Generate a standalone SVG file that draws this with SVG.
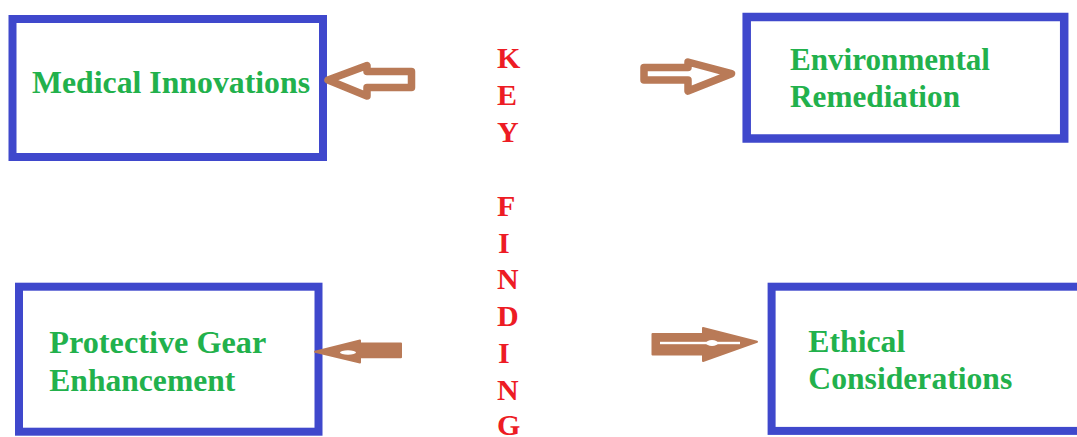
<svg xmlns="http://www.w3.org/2000/svg" width="1077" height="437" viewBox="0 0 1077 437">
<style>
.box{fill:#fff;stroke:#3F48CC;stroke-width:8}
.lbl{font-family:"Liberation Serif","Times New Roman",serif;font-weight:bold;font-size:31px;fill:#22B14C}
.key{font-family:"Liberation Serif","Times New Roman",serif;font-weight:bold;font-size:30px;fill:#ED1C24}
.hol{fill:#fff;stroke:#B97A57;stroke-width:7.5;stroke-linejoin:round}
.sol{fill:#B97A57;stroke:#B97A57;stroke-width:2;stroke-linejoin:round}
</style>
<rect width="1077" height="437" fill="#fff"/>
<g id="medical">
<rect class="box" x="12.5" y="19" width="310.5" height="138"/>
<text class="lbl" x="32" y="93" textLength="278" lengthAdjust="spacingAndGlyphs">Medical Innovations</text>
</g>
<g id="environmental">
<rect class="box" x="746.7" y="17" width="317.5" height="121.5" style="stroke-width:8.5"/>
<text class="lbl" x="790" y="70" textLength="200" lengthAdjust="spacingAndGlyphs">Environmental</text>
<text class="lbl" x="790" y="106.7" textLength="170" lengthAdjust="spacingAndGlyphs">Remediation</text>
</g>
<g id="protective">
<rect class="box" x="19" y="286.7" width="299.5" height="145"/>
<text class="lbl" x="49.3" y="353.3" textLength="217" lengthAdjust="spacingAndGlyphs">Protective Gear</text>
<text class="lbl" x="49.3" y="390.7" textLength="186" lengthAdjust="spacingAndGlyphs">Enhancement</text>
</g>
<g id="ethical">
<rect class="box" x="771.6" y="286.7" width="320" height="144.2"/>
<text class="lbl" x="808.3" y="351.7" textLength="97" lengthAdjust="spacingAndGlyphs">Ethical</text>
<text class="lbl" x="808.3" y="389" textLength="204" lengthAdjust="spacingAndGlyphs">Considerations</text>
</g>
<g id="key-finding">
<text class="key" x="497" y="68.3">K</text>
<text class="key" x="497" y="105.2">E</text>
<text class="key" x="497" y="142">Y</text>
<text class="key" x="497" y="215.7">F</text>
<text class="key" x="498" y="252.6">I</text>
<text class="key" x="497" y="289.4">N</text>
<text class="key" x="497" y="326.3">D</text>
<text class="key" x="498" y="363.1">I</text>
<text class="key" x="497" y="400">N</text>
<text class="key" x="497" y="435">G</text>
</g>
<g id="connectors">
<polygon class="hol" points="328,80 367,65.5 367,71.5 411.5,71.5 411.5,87.5 367,87.5 367,96"/>
<polygon class="hol" points="644,67.5 688,67.5 688,62 731.5,73.7 688,91 688,80 644,80"/>
<polygon class="sol" points="315,351.7 360,340.5 360,343.5 401,343.5 401,357.3 360,357.3 360,362.5"/>
<ellipse cx="348" cy="352.5" rx="8" ry="2.2" fill="#fff"/>
<polygon class="sol" points="652.5,334 703,334 703,328 757,341.7 703,361 703,354.5 652.5,354.5"/>
<rect x="660" y="341.8" width="80" height="2.4" fill="#fff"/>
<ellipse cx="712" cy="343" rx="6" ry="3" fill="#fff"/>
</g>
</svg>
